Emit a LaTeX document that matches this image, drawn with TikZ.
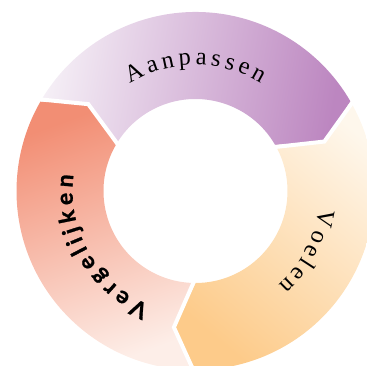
\documentclass[tikz,border=0pt]{standalone}
\usepackage{fontspec}
\usetikzlibrary{decorations.text}
\newfontfamily\serifword{Liberation Serif}
\newfontfamily\sansword{Lato}[BoldFeatures={FakeBold=1.2}]
\newcommand\serifsize{\serifword\fontsize{24.5pt}{24.5pt}\selectfont}
\newcommand\sanssize{\sansword\bfseries\fontsize{23pt}{23pt}\selectfont}
\definecolor{purpleLight}{HTML}{F5EFF6}
\definecolor{purpleDark}{HTML}{BC86C0}
\definecolor{orangeLight}{HTML}{FEF7EC}
\definecolor{orangeDark}{HTML}{FDCB8A}
\definecolor{salmonDark}{HTML}{F28E74}
\definecolor{salmonLight}{HTML}{FDEEE8}
\tikzset{
  gapline/.style={draw=white, line width=4pt, line join=miter},
  ringword/.style={decorate, decoration={text along path, text align=fit to path, text={#1}}}
}
\begin{document}
\begin{tikzpicture}
\useasboundingbox (0,0) rectangle (367pt,366pt);
\clip (0,0) rectangle (367pt,366pt);
\coordinate (c) at (195.5pt,175pt);
\begin{scope}[shift={(c)}]
  % Aanpassen segment
  \shade[top color=purpleLight, bottom color=purpleDark, shading angle=80]
    (150:179pt) arc[start angle=150, end angle=30, radius=179pt] -- (21:138pt) -- (30:92pt)
    arc[start angle=30, end angle=150, radius=92pt] -- (141:138pt) -- cycle;
  % Voelen segment
  \shade[top color=orangeLight, bottom color=orangeDark, shading angle=-40]
    (30:179pt) arc[start angle=30, end angle=-90, radius=179pt] -- (-99:138pt) -- (-90:92pt)
    arc[start angle=-90, end angle=30, radius=92pt] -- (21:138pt) -- cycle;
  % Vergelijken segment
  \shade[top color=salmonDark, bottom color=salmonLight, shading angle=20]
    (270:179pt) arc[start angle=270, end angle=150, radius=179pt] -- (141:138pt) -- (150:92pt)
    arc[start angle=150, end angle=270, radius=92pt] -- (261:138pt) -- cycle;
  % gaps
  \draw[gapline] (150:184pt) -- (141:138pt) -- (150:87pt);
  \draw[gapline] (30:184pt) -- (21:138pt) -- (30:87pt);
  \draw[gapline] (270:184pt) -- (261:138pt) -- (270:87pt);
  % labels
  \path[ringword={|\serifsize|Aanpassen}]
    (121.5:126pt) arc[start angle=121.5, end angle=58.5, radius=126pt];
  \path[ringword={|\serifsize|Voelen}]
    (-8:125pt) arc[start angle=-8, end angle=-48.5, radius=125pt];
  \path[ringword={|\sanssize|Vergelijken}]
    (248:123pt) arc[start angle=248, end angle=172.5, radius=123pt];
\end{scope}
\end{tikzpicture}
\end{document}
